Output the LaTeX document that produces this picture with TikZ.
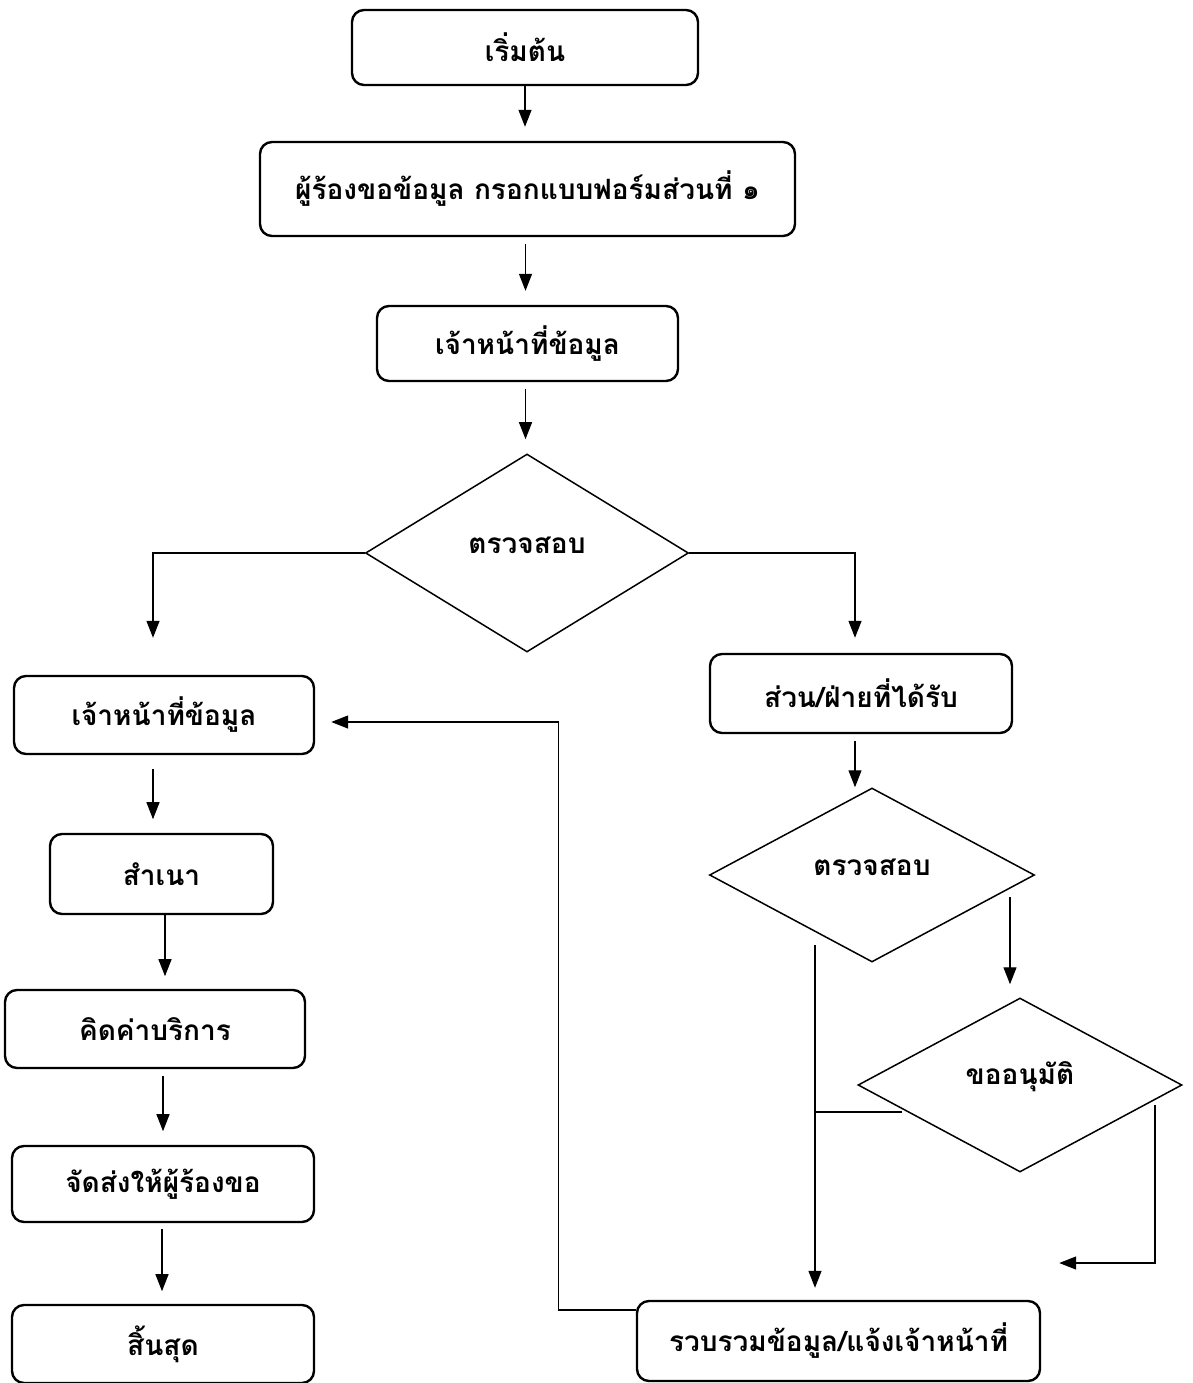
\documentclass[tikz,border=0pt]{standalone}
\usepackage{fontspec}
\setmainfont[Script=Thai]{Loma}
\usetikzlibrary{shapes.geometric,arrows.meta,calc}
\begin{document}
\begin{tikzpicture}[x=1pt,y=-1pt,
  every node/.style={font=\fontsize{28}{32}\selectfont\bfseries},
  box/.style={draw,line width=2.4pt,rounded corners=12pt,inner sep=0pt},
  dia/.style={draw,diamond,line width=1.5pt,inner sep=0pt},
  conn/.style={line width=1.3pt,-{Triangle[length=17pt,width=13pt]}},
  plain/.style={line width=1.3pt}]
\useasboundingbox (0,0) rectangle (1192,1383);
% main column
\node[box,minimum width=346pt,minimum height=75pt] (start) at (525,47.5) {เริ่มต้น};
\node[box,minimum width=535pt,minimum height=94pt] (req) at (527.5,189) {ผู้ร้องขอข้อมูล กรอกแบบฟอร์มส่วนที่ ๑};
\node[box,minimum width=301pt,minimum height=75pt] (off1) at (527.5,343.5) {เจ้าหน้าที่ข้อมูล};
\node[dia,minimum width=323pt,minimum height=198pt] (d1) at (527,553) {};
\node at ($(d1.center)+(0,-8)$) (d1t) {ตรวจสอบ};
% left column
\node[box,minimum width=300pt,minimum height=78pt] (left1) at (164,715) {เจ้าหน้าที่ข้อมูล};
\node[box,minimum width=223pt,minimum height=80pt] (copy) at (161.5,874) {สำเนา};
\node[box,minimum width=300pt,minimum height=78pt] (fee) at (155,1029) {คิดค่าบริการ};
\node[box,minimum width=302pt,minimum height=76pt] (send) at (163,1184) {จัดส่งให้ผู้ร้องขอ};
\node[box,minimum width=302pt,minimum height=78pt] (end) at (163,1344) {สิ้นสุด};
% right column
\node[box,minimum width=302pt,minimum height=79pt] (right1) at (861,693.5) {ส่วน/ฝ่ายที่ได้รับ};
\node[dia,minimum width=325pt,minimum height=174pt] (d2) at (872,875) {};
\node at ($(d2.center)+(0,-8)$) (d2t) {ตรวจสอบ};
\node[dia,minimum width=324pt,minimum height=174pt] (d3) at (1020,1085) {};
\node at ($(d3.center)+(0,-8)$) (d3t) {ขออนุมัติ};
\node[box,minimum width=403pt,minimum height=80pt] (collect) at (838.5,1341) {รวบรวมข้อมูล/แจ้งเจ้าหน้าที่};
% connectors
\draw[conn,shorten >=14pt] (start.south) -- (start.south |- req.north);
\draw[conn,shorten >=14pt] ($(req.south)+(-2,7)$) -- ($(off1.north)+(-2,0)$);
\draw[conn,shorten >=14pt] ($(off1.south)+(-2,7)$) -- ($(off1.south)+(-2,71)$);
\draw[conn] (d1.west) -| ($(left1.north)+(-11,-37)$);
\draw[conn] (d1.east) -| ($(right1.north)+(-6,-15)$);
\draw[conn] ($(left1.south)+(-11,14)$) -- ($(left1.south)+(-11,64)$);
\draw[conn] ($(copy.south)+(3.5,0)$) -- ($(copy.south)+(3.5,61)$);
\draw[conn] ($(fee.south)+(8,7)$) -- ($(fee.south)+(8,62)$);
\draw[conn] ($(send.south)+(-1,6)$) -- ($(send.south)+(-1,68)$);
\draw[conn] ($(right1.south)+(-6,7)$) -- (d2.north -| 855,0);
\draw[conn] ($(d2.center)+(-57,70)$) -- ($(collect.north)+(-23.5,-12)$);
\draw[conn] ($(d2.center)+(138,22)$) -- ($(d3.north)+(-10,-13)$);
\draw[plain] ($(d3.center)+(-118,27)$) -- ($(d3.center)+(-205,27)$);
\draw[conn] ($(d3.center)+(135,20)$) |- ($(collect.east)+(18,-78)$);
\draw[conn] ($(collect.west)+(0,-31)$) -| ($(collect.west)+(-77,-619)$) -- ($(left1.east)+(16,7)$);
\end{tikzpicture}
\end{document}
